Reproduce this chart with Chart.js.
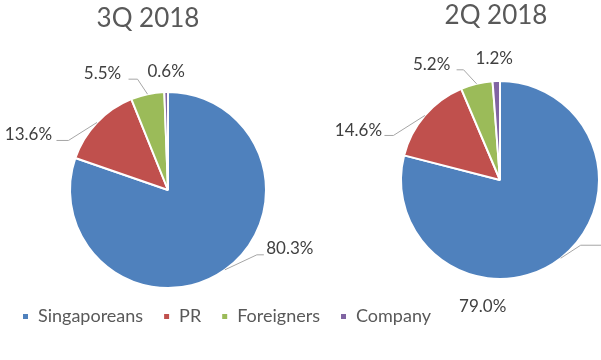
<!DOCTYPE html>
<html><head><meta charset="utf-8">
<script src="https://cdn.jsdelivr.net/npm/chart.js@4.4.1/dist/chart.umd.min.js"></script>
<style>
html,body{margin:0;padding:0;background:#fff;}
#wrap{position:relative;width:601px;height:360px;overflow:hidden;}
canvas{position:absolute;left:0;top:0;}
</style></head><body>
<div id="wrap"><canvas id="c1" width="601" height="360"></canvas><canvas id="c2" width="601" height="360"></canvas></div>
<script>
// ---- data ----
const categories = ['Singaporeans', 'PR', 'Foreigners', 'Company'];
const values3Q = [80.3, 13.6, 5.5, 0.6];
const values2Q = [79.0, 14.6, 5.2, 1.2];
const chartTitles = ['3Q 2018', '2Q 2018'];

// ---- style ----
const sliceColors = ['#4F81BD', '#C0504D', '#9BBB59', '#8064A2'];
const FONT = 'Lato, "Open Sans", sans-serif';
const TEXT = '#595959';

// place the pie at a given centre/radius
const pieBoxPlugin = {
  id: 'pieBox',
  afterLayout(chart, args, opts) {
    const a = chart.chartArea;
    a.left = opts.cx - opts.r; a.right = opts.cx + opts.r;
    a.top = opts.cy - opts.r; a.bottom = opts.cy + opts.r;
    a.width = 2 * opts.r; a.height = 2 * opts.r;
  }
};

// title + data labels with leader lines
const labelPlugin = {
  id: 'sliceLabels',
  afterDraw(chart, args, opts) {
    const ctx = chart.ctx;
    ctx.save();
    ctx.fillStyle = TEXT;
    ctx.textAlign = 'center';
    ctx.textBaseline = 'middle';
    ctx.font = '26px ' + FONT;
    ctx.fillText(opts.title, opts.titleX, opts.titleY);

    const meta = chart.getDatasetMeta(0);
    const data = chart.data.datasets[0].data;
    meta.data.forEach((el, i) => {
      const p = el.getProps(['x', 'y', 'startAngle', 'endAngle', 'outerRadius'], true);
      const mid = (p.startAngle + p.endAngle) / 2;
      const ex = p.x + Math.cos(mid) * p.outerRadius;
      const ey = p.y + Math.sin(mid) * p.outerRadius;
      const L = opts.layout[i];
      if (L.elbow) {
        ctx.strokeStyle = '#A6A6A6';
        ctx.lineWidth = 1;
        ctx.beginPath();
        ctx.moveTo(ex, ey);
        ctx.lineTo(ex + L.elbow[0], ey + L.elbow[1]);
        ctx.lineTo(ex + L.end[0], ey + L.end[1]);
        ctx.stroke();
      }
      ctx.fillStyle = '#404040';
      ctx.font = '17px ' + FONT;
      ctx.fillText(data[i].toFixed(1) + '%', ex + L.label[0], ey + L.label[1]);
    });
    ctx.restore();
  }
};

function makePie(id, values, title, pos, showLegend) {
  return new Chart(document.getElementById(id), {
    type: 'pie',
    data: {
      labels: categories,
      datasets: [{
        data: values,
        backgroundColor: sliceColors,
        borderColor: '#FFFFFF',
        borderWidth: 2,
        clip: false
      }]
    },
    options: {
      responsive: false,
      animation: false,
      devicePixelRatio: 1,
      events: [],
      layout: { padding: { left: 2, right: 0, top: 0, bottom: 24.5 } },
      plugins: {
        tooltip: { enabled: false },
        legend: {
          display: showLegend,
          position: 'bottom',
          align: 'start',
          labels: {
            boxWidth: 7, boxHeight: 7, padding: 20,
            color: TEXT,
            font: { family: FONT, size: 18 }
          }
        },
        pieBox: pos.box,
        sliceLabels: {
          title: title,
          titleX: pos.titleX, titleY: pos.titleY,
          layout: pos.labels
        }
      }
    },
    plugins: [pieBoxPlugin, labelPlugin]
  });
}

makePie('c1', values3Q, chartTitles[0], {
  box: { cx: 168, cy: 190, r: 99 },
  titleX: 148, titleY: 19,
  labels: [
    { elbow: [32, -15], end: [39, -15], label: [65, -21] },
    { elbow: [-28.5, 18], end: [-40.5, 18], label: [-68.5, 12] },
    { elbow: [-10, -15], end: [-19, -15], label: [-45, -21] },
    { elbow: null, label: [0, -21] }
  ]
}, true);

makePie('c2', values2Q, chartTitles[1], {
  box: { cx: 500, cy: 180, r: 100 },
  titleX: 496, titleY: 16,
  labels: [
    { elbow: [20, -13], end: [45, -13], label: [-78, 48] },
    { elbow: [-31.5, 20], end: [-40.5, 20], label: [-66.5, 15] },
    { elbow: [-13, -14], end: [-20, -14], label: [-45, -19] },
    { elbow: null, label: [-2, -23] }
  ]
}, false);
</script>
</body></html>
